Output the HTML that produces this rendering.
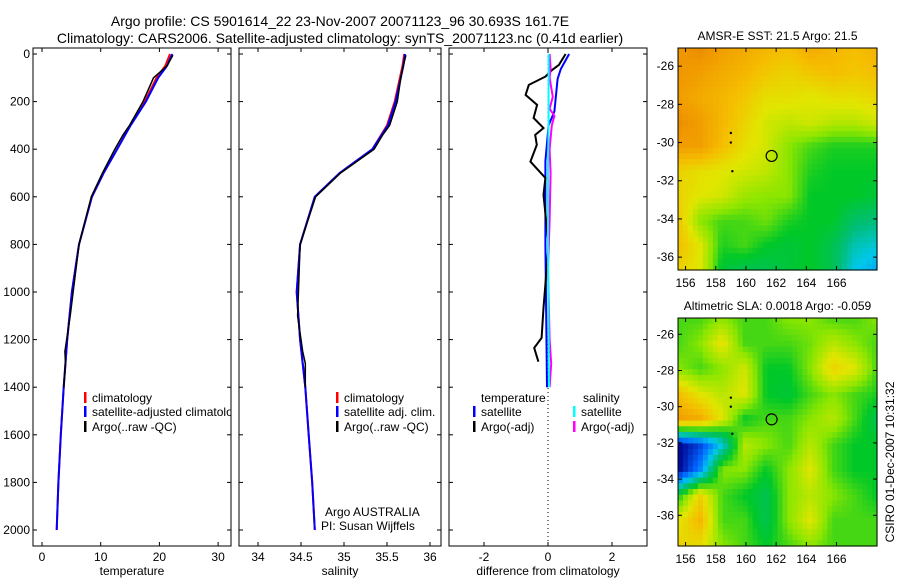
<!DOCTYPE html>
<html><head><meta charset="utf-8"><style>
body{margin:0;background:#fff;width:900px;height:580px;overflow:hidden;font-family:"Liberation Sans",sans-serif}
svg text{font-family:"Liberation Sans",sans-serif}
</style></head><body>
<svg id="c" width="900" height="580" xmlns="http://www.w3.org/2000/svg"></svg>
<script>
// ---- data ----
const depths = [0,50,100,200,300,400,500,600,800,1000,1200,1400,1600,1800,2000];
const tempClim = [21.8,21,19.5,17.5,15,12.8,10.5,8.5,6.3,5.1,4.3,3.7,3.2,2.8,2.5];
const tempSat  = [22.2,21.3,19.8,17.7,15.1,12.8,10.5,8.5,6.3,5.1,4.3,3.7,3.2,2.8,2.5];
const argoDepths = [5,50,100,200,300,340,400,500,600,800,1100,1250,1300,1400];
const tempArgo = [22.3,21.3,19.0,17.2,14.9,13.8,12.4,10.3,8.4,6.3,4.8,3.9,4.0,3.7];
const salClim = [35.7,35.68,35.65,35.59,35.5,35.33,34.95,34.66,34.49,34.45,34.49,34.55,34.59,34.63,34.66];
const salSat  = [35.71,35.69,35.66,35.6,35.51,35.33,34.95,34.66,34.49,34.45,34.49,34.55,34.59,34.63,34.66];
const salArgo = [35.72,35.69,35.66,35.62,35.53,35.45,35.35,34.96,34.67,34.49,34.46,34.52,34.55,34.55];
const diffTDepth = [0,46,67,95,130,172,214,269,311,340,382,452,521,592,802,1067,1193,1235,1293];
const diffTArgo = [0.55,0.34,0.13,-0.08,-0.6,-0.7,-0.34,-0.45,-0.14,-0.4,-0.35,-0.55,-0.08,-0.14,0.02,-0.14,-0.2,-0.43,-0.3];
const diffSatDepth = [0,63,105,241,300,450,800,1400];
const diffTSat = [0.66,0.4,0.3,0.2,0.02,-0.08,-0.08,-0.03];
const diffSSat = [0.02,0.02,0.02,0.02,0.02,0.0,0.0,0.03];
const diffSArgoDepth = [0,60,100,180,230,260,300,400,500,700,900,1200,1300,1400];
const diffSArgo = [0.05,0.08,0.05,0.15,0.05,0.2,0.12,0.05,0.08,0.05,0.0,0.05,0.1,0.05];
const depthTicks = [0,200,400,600,800,1000,1200,1400,1600,1800,2000];
const tempTicks = [0,10,20,30];
const salTicks = [34,34.5,35,35.5,36];
const diffTicks = [-2,0,2];
const lonTicks = [156,158,160,162,164,166];
const latTicks = [-26,-28,-30,-32,-34,-36];
const sstGrid = [
[.9,.92,.88,.85,.82,.8,.85,.82,.8,.83],
[.9,.88,.85,.82,.78,.75,.78,.8,.78,.8],
[.88,.85,.82,.78,.72,.72,.7,.72,.72,.74],
[.92,.88,.82,.75,.68,.66,.68,.65,.65,.68],
[.88,.88,.8,.72,.68,.6,.55,.52,.52,.52],
[.75,.72,.7,.68,.66,.6,.52,.5,.5,.5],
[.75,.7,.68,.62,.6,.6,.5,.5,.5,.48],
[.78,.6,.55,.55,.58,.52,.5,.5,.42,.4],
[.8,.7,.52,.55,.5,.48,.5,.45,.35,.32],
[.75,.7,.48,.45,.45,.48,.5,.45,.3,.25]];
const slaGrid = [
[.55,.55,.6,.55,.55,.6,.6,.55,.55,.6],
[.55,.6,.72,.55,.55,.55,.58,.65,.6,.55],
[.6,.55,.6,.68,.5,.5,.6,.75,.7,.55],
[.8,.7,.65,.7,.5,.48,.55,.6,.55,.52],
[.88,.85,.7,.5,.55,.55,.6,.65,.55,.45],
[0.0,0.1,.3,.65,.6,.55,.65,.55,.5,.5],
[0.0,0.2,.6,.6,.5,.6,.7,.55,.5,.5],
[.5,.75,.55,.5,.45,.6,.65,.6,.55,.5],
[.7,.82,.55,.55,.45,.6,.7,.55,.55,.55],
[.75,.72,.6,.55,.5,.55,.6,.55,.55,.55]];
const floatLon = 161.7, floatLat = -30.7;
const trackLon = [159.0,159.0,159.1];
const trackLat = [-29.5,-30.0,-31.5];

// ---- drawing ----
const S = document.getElementById('c'), NS='http://www.w3.org/2000/svg';
function el(t,a,p){const e=document.createElementNS(NS,t);for(const k in a)e.setAttribute(k,a[k]);(p||S).appendChild(e);return e;}
function txt(x,y,s,a){const e=el('text',Object.assign({x:x,y:y,'font-size':12,fill:'#000'},a||{}));e.textContent=s;return e;}
const dY = d => 54 + d*0.238;
function frame(x0,y0,x1,y1,name){const r=el('rect',{x:x0,y:y0,width:x1-x0,height:y1-y0,fill:'none',stroke:'#000','stroke-width':1});}
function line(xs,ys,col,w,name,clip){const p=xs.map((x,i)=>x.toFixed(1)+','+ys[i].toFixed(1)).join(' ');const e=el('polyline',{points:p,fill:'none',stroke:col,'stroke-width':w,'clip-path':clip});}

let t=txt(340,26,'Argo profile: CS 5901614_22 23-Nov-2007 20071123_96 30.693S 161.7E',{'text-anchor':'middle','font-size':14});

t=txt(340,43,'Climatology: CARS2006. Satellite-adjusted climatology: synTS_20071123.nc (0.41d earlier)',{'text-anchor':'middle','font-size':14});


const panels=[
 {x0:33,x1:231,fx:v=>42+v*5.87,ticks:tempTicks,label:'temperature',name:'temperature-panel'},
 {x0:239,x1:441,fx:v=>301+(v-34.5)*86,ticks:salTicks,label:'salinity',name:'salinity-panel'},
 {x0:449,x1:647,fx:v=>548+v*32,ticks:diffTicks,label:'difference from climatology',name:'difference-panel'}];
panels.forEach((P,i)=>{
 const cp=el('clipPath',{id:'cp'+i});el('rect',{x:P.x0,y:48,width:P.x1-P.x0,height:498},cp);
 frame(P.x0,48,P.x1,546,P.name);
 depthTicks.forEach(d=>{const y=dY(d);el('line',{x1:P.x0,y1:y,x2:P.x0+4,y2:y,stroke:'#000'});el('line',{x1:P.x1,y1:y,x2:P.x1-4,y2:y,stroke:'#000'});
  if(i==0){t=txt(P.x0-3,y+4,String(d),{'text-anchor':'end'});}});
 P.ticks.forEach(v=>{const x=P.fx(v);el('line',{x1:x,y1:546,x2:x,y2:542,stroke:'#000'});el('line',{x1:x,y1:48,x2:x,y2:52,stroke:'#000'});
  t=txt(x,561,String(v),{'text-anchor':'middle'});});
 t=txt((P.x0+P.x1)/2,575,P.label,{'text-anchor':'middle'});
});
const f1=panels[0].fx,f2=panels[1].fx,f3=panels[2].fx;
line(tempClim.map(f1),depths.map(dY),'#f00',2,'temp-climatology-line','url(#cp0)');
line(tempSat.map(f1),depths.map(dY),'#00f',2,'temp-satellite-line','url(#cp0)');
line(tempArgo.map(f1),argoDepths.map(dY),'#000',1.5,'temp-argo-line','url(#cp0)');
line(salClim.map(f2),depths.map(dY),'#f00',2,'sal-climatology-line','url(#cp1)');
line(salSat.map(f2),depths.map(dY),'#00f',2,'sal-satellite-line','url(#cp1)');
line(salArgo.map(f2),argoDepths.map(dY),'#000',1.5,'sal-argo-line','url(#cp1)');
const zl=el('line',{x1:f3(0),y1:48,x2:f3(0),y2:546,stroke:'#000','stroke-dasharray':'1,3'});
line(diffTSat.map(f3),diffSatDepth.map(dY),'#00f',2,'diff-temp-satellite-line','url(#cp2)');
line(diffTArgo.map(f3),diffTDepth.map(dY),'#000',2,'diff-temp-argo-line','url(#cp2)');
line(diffSArgo.map(f3),diffSArgoDepth.map(dY),'#f0f',2,'diff-sal-argo-line','url(#cp2)');
line(diffSSat.map(f3),diffSatDepth.map(dY),'#0ff',2,'diff-sal-satellite-line','url(#cp2)');

function leg(x,y,col,label,clip){if(col){const b=el('rect',{x:x,y:y-10,width:2.5,height:11,fill:col});}
 t=txt(x+8,y,label,clip?{'clip-path':clip}:{});}
leg(84,402,'#f00','climatology');leg(84,416,'#00f','satellite-adjusted climatology','url(#cp0)');leg(84,431,'#000','Argo(..raw -QC)');
leg(336,402,'#f00','climatology');leg(336,416,'#00f','satellite adj. clim.');leg(336,431,'#000','Argo(..raw -QC)');
t=txt(325,516,'Argo AUSTRALIA');
t=txt(321,530,'PI: Susan Wijffels');
leg(473,402,null,'temperature');leg(575,402,null,'salinity');
leg(473,416,'#00f','satellite');leg(573,416,'#0ff','satellite');
leg(473,431,'#000','Argo(-adj)');leg(573,431,'#f0f','Argo(-adj)');

const cstops=[[0,[0,0,140]],[.15,[0,100,255]],[.3,[0,200,235]],[.4,[0,190,120]],[.5,[0,200,40]],[.6,[140,230,0]],[.7,[225,230,0]],[.8,[245,190,0]],[.9,[240,150,0]],[1,[210,100,0]]];
function cmap(v){v=Math.max(0,Math.min(1,v));for(let i=1;i<cstops.length;i++){if(v<=cstops[i][0]){const a=cstops[i-1],b=cstops[i],f=(v-a[0])/(b[0]-a[0]);return 'rgb('+a[1].map((c,k)=>Math.round(c+(b[1][k]-c)*f)).join(',')+')';}}return 'rgb(210,100,0)';}
function sample(grid,u,v){const R=grid.length-1,C=grid[0].length-1;const y=v*R,x=u*C;const i=Math.min(R-1,Math.floor(y)),j=Math.min(C-1,Math.floor(x));const fy=y-i,fx=x-j;
 return grid[i][j]*(1-fx)*(1-fy)+grid[i][j+1]*fx*(1-fy)+grid[i+1][j]*(1-fx)*fy+grid[i+1][j+1]*fx*fy;}
function map(grid,y0,y1,latTop,degPx,title,name){
 const x0=678,x1=877,lon0=155.5,lonPx=15.1;
 const fx=l=>x0+(l-lon0)*lonPx, fy=l=>y0+(latTop-l)*degPx;
 const N=40,cw=(x1-x0)/N,ch=(y1-y0)/N;
 const g=el('g',{});
 for(let i=0;i<N;i++)for(let j=0;j<N;j++){const v=sample(grid,(j+0.5)/N,(i+0.5)/N);
  const c=el('rect',{x:(x0+j*cw).toFixed(2),y:(y0+i*ch).toFixed(2),width:(cw+0.6).toFixed(2),height:(ch+0.6).toFixed(2),fill:cmap(v)},g);
  
  }
 frame(x0,y0,x1,y1,name+'-frame');
 lonTicks.forEach(l=>{const x=fx(l);el('line',{x1:x,y1:y1,x2:x,y2:y1-4,stroke:'#000'});el('line',{x1:x,y1:y0,x2:x,y2:y0+4,stroke:'#000'});
  t=txt(x,y1+17,String(l),{'text-anchor':'middle'});});
 latTicks.forEach(l=>{const y=fy(l);el('line',{x1:x0,y1:y,x2:x0+4,y2:y,stroke:'#000'});el('line',{x1:x1,y1:y,x2:x1-4,y2:y,stroke:'#000'});
  t=txt(x0-4,y+4,String(l),{'text-anchor':'end'});});
 trackLon.forEach((l,i)=>{const d=el('circle',{cx:fx(l),cy:fy(trackLat[i]),r:1.2,fill:'#000'});});
 const c=el('circle',{cx:fx(floatLon),cy:fy(floatLat),r:5.5,fill:'none',stroke:'#000','stroke-width':1.2});
 t=txt((x0+x1)/2,y0-8,title,{'text-anchor':'middle'});
}
map(sstGrid,48,270,-25.05,19.1,'AMSR-E SST: 21.5 Argo: 21.5','sst-map');
map(slaGrid,318,546,-25.1,18.1,'Altimetric SLA: 0.0018 Argo: -0.059','sla-map');
t=txt(0,0,'CSIRO 01-Dec-2007 10:31:32',{'text-anchor':'middle',transform:'translate(894,462) rotate(-90)'});

</script>
</body></html>
